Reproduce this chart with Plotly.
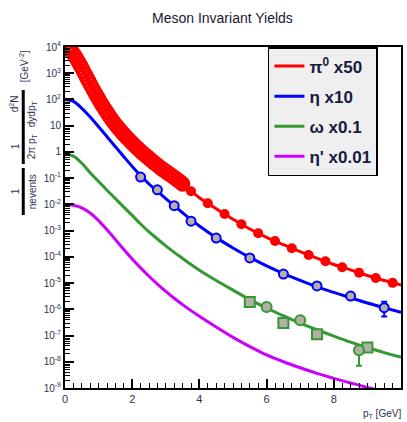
import plotly.graph_objects as go

# ---------------- data ----------------
# pi0 x50 : dense low-pT points
pi0_dense_pt = [0.05, 0.10, 0.15, 0.20, 0.25, 0.30, 0.35, 0.40, 0.45, 0.50,
                0.55, 0.60, 0.65, 0.70, 0.75, 0.80, 0.85, 0.90, 0.95, 1.00,
                1.05, 1.10, 1.15, 1.20, 1.25, 1.30, 1.35, 1.40, 1.45, 1.50,
                1.55, 1.60, 1.65, 1.70, 1.75, 1.80, 1.85, 1.90, 1.95, 2.00,
                2.05, 2.10, 2.15, 2.20, 2.25, 2.30, 2.35, 2.40, 2.45, 2.50,
                2.55, 2.60, 2.65, 2.70, 2.75, 2.80, 2.85, 2.90, 2.95, 3.00,
                3.05, 3.10, 3.15, 3.20, 3.25, 3.30, 3.35, 3.40, 3.45, 3.50]
pi0_dense_y = [1.0e4, 8.5e3, 7.6e3, 6.6e3, 5.5e3, 4.4e3, 3.5e3, 2.7e3, 2.1e3, 1.6e3,
               1.2e3, 890, 676, 513, 389, 295, 224, 174, 135, 105,
               81, 63, 50, 40, 31.6, 25.1, 20.4, 16.6, 13.5, 11.2,
               9.3, 7.8, 6.5, 5.5, 4.7, 4.0, 3.4, 2.95, 2.5, 2.19,
               1.86, 1.62, 1.41, 1.23, 1.07, 0.93, 0.83, 0.72, 0.65, 0.56,
               0.50, 0.44, 0.39, 0.35, 0.31, 0.275, 0.245, 0.22, 0.20, 0.178,
               0.162, 0.145, 0.132, 0.117, 0.107, 0.095, 0.085, 0.076, 0.068, 0.060]
# pi0 x50 : high-pT points
pi0_pt = [3.75, 4.25, 4.75, 5.25, 5.75, 6.25, 6.75, 7.25, 7.75, 8.25, 8.75, 9.25, 9.75]
pi0_y = [0.0316, 0.011, 4.3e-3, 1.74e-3, 7.9e-4, 4.0e-4, 2.14e-4, 1.17e-4, 6.8e-5, 4.0e-5, 2.5e-5,
         1.55e-5, 1.02e-5]
# pi0 x50 : fit curve
pi0_fit_pt = [0, 0.5, 1.0, 1.5, 2.0, 2.5, 3.0, 3.5, 4.0, 4.5, 5.0, 5.5, 6.0, 6.5, 7.0, 7.5,
              8.0, 8.5, 9.0, 9.5, 10.0]
pi0_fit_y = [1.0e4, 1.6e3, 105, 11.2, 2.19, 0.56, 0.178, 0.058, 0.018, 6.8e-3, 2.7e-3, 1.15e-3,
             5.5e-4, 2.9e-4, 1.58e-4, 8.9e-5, 5.1e-5, 3.2e-5, 1.95e-5, 1.26e-5, 8.5e-6]

# common pT grid for the other fit curves
fit_pt = [0, 0.25, 0.5, 0.75, 1.0, 1.25, 1.5, 1.75, 2.0, 2.25, 2.5, 2.75, 3.0, 3.25, 3.5, 3.75,
          4.0, 4.5, 5.0, 5.5, 6.0, 6.5, 7.0, 7.5, 8.0, 8.5, 9.0, 9.5, 10.0]
eta_fit_y = [100, 85, 46, 21.4, 9.1, 3.8, 1.58, 0.66, 0.28, 0.126, 0.060, 0.0316, 0.0166, 8.9e-3,
             4.8e-3, 2.63e-3, 1.51e-3, 5.4e-4, 2.19e-4, 9.5e-5, 4.5e-5, 2.3e-5, 1.26e-5, 7.2e-6,
             4.4e-6, 2.75e-6, 1.74e-6, 1.15e-6, 7.6e-7]
omega_fit_y = [0.85, 0.69, 0.37, 0.162, 0.074, 0.0347, 0.0166, 7.9e-3, 3.8e-3, 1.78e-3, 8.9e-4,
               4.8e-4, 2.63e-4, 1.48e-4, 8.7e-5, 5.1e-5, 3.1e-5, 1.26e-5, 5.4e-6, 2.34e-6, 1.12e-6,
               5.6e-7, 3.0e-7, 1.66e-7, 9.5e-8, 5.6e-8, 3.5e-8, 2.24e-8, 1.5e-8]
etap_fit_y = [0.01, 9.3e-3, 7.4e-3, 4.7e-3, 2.4e-3, 1.07e-3, 4.6e-4, 1.9e-4, 8.3e-5, 3.8e-5,
              1.82e-5, 9.1e-6, 4.8e-6, 2.63e-6, 1.51e-6, 8.9e-7, 5.4e-7, 2.1e-7, 8.5e-8, 3.8e-8,
              1.82e-8, 1.0e-8, 5.9e-9, 3.6e-9, 2.34e-9, 1.55e-9, 1.05e-9, 7.2e-10, 5.0e-10]

# eta x10 data points
eta_pt = [2.25, 2.75, 3.25, 3.75, 4.5, 5.5, 6.5, 7.5, 8.5, 9.5]
eta_y = [0.11, 0.036, 8.9e-3, 2.3e-3, 5.2e-4, 9.1e-5, 2.2e-5, 7.8e-6, 3.2e-6, 1.15e-6]
eta_err_up = [0, 0, 0, 0, 0, 0, 0, 0, 0, 0.8e-6]
eta_err_dn = [0, 0, 0, 0, 0, 0, 0, 0, 0, 0.62e-6]

# omega x0.1 data points (two measurements)
omega_sq_pt = [5.5, 6.5, 7.5, 9.0]
omega_sq_y = [1.9e-6, 3.0e-7, 1.12e-7, 3.5e-8]
omega_ci_pt = [6.0, 7.0, 8.75]
omega_ci_y = [1.23e-6, 3.8e-7, 2.75e-8]
omega_ci_err_up = [0, 0, 1.0e-8]
omega_ci_err_dn = [0, 0, 2.05e-8]

legend_names = ["<b>\u03c0<sup>0</sup> x50</b>", "<b>\u03b7 x10</b>",
                "<b>\u03c9 x0.1</b>", "<b>\u03b7' x0.01</b>"]
y_tick_vals = [1e4, 1e3, 1e2, 10, 1, 1e-1, 1e-2, 1e-3, 1e-4, 1e-5, 1e-6, 1e-7, 1e-8, 1e-9]
y_tick_text = ["10<sup>4</sup>", "10<sup>3</sup>", "10<sup>2</sup>", "10", "1",
               "10<sup>-1</sup>", "10<sup>-2</sup>", "10<sup>-3</sup>", "10<sup>-4</sup>",
               "10<sup>-5</sup>", "10<sup>-6</sup>", "10<sup>-7</sup>", "10<sup>-8</sup>",
               "10<sup>-9</sup>"]

RED = "#ff0000"
BLUE = "#0000ff"
GREEN = "#339933"
MAG = "#cc00ff"
GREY = "#b4afa5"
FONT = "Liberation Sans, Arial, sans-serif"
TXT = "#2b3350"

fig = go.Figure()

# fit curves (these carry the legend entries)
fig.add_trace(go.Scatter(x=pi0_fit_pt, y=pi0_fit_y, mode="lines", name=legend_names[0],
                         legendgroup="a", line=dict(color=RED, width=3, shape="spline")))
fig.add_trace(go.Scatter(x=fit_pt, y=eta_fit_y, mode="lines", name=legend_names[1],
                         legendgroup="b", line=dict(color=BLUE, width=3, shape="spline")))
fig.add_trace(go.Scatter(x=fit_pt, y=omega_fit_y, mode="lines", name=legend_names[2],
                         legendgroup="c", line=dict(color=GREEN, width=3, shape="spline")))
fig.add_trace(go.Scatter(x=fit_pt, y=etap_fit_y, mode="lines", name=legend_names[3],
                         legendgroup="d", line=dict(color=MAG, width=3, shape="spline")))

# data points
fig.add_trace(go.Scatter(x=pi0_dense_pt, y=pi0_dense_y, mode="markers", showlegend=False,
                         marker=dict(symbol="circle-open", size=13, color=RED,
                                     line=dict(width=2.5, color=RED))))
fig.add_trace(go.Scatter(x=pi0_pt, y=pi0_y, mode="markers", showlegend=False,
                         marker=dict(symbol="circle", size=10, color=RED)))
fig.add_trace(go.Scatter(x=eta_pt, y=eta_y, mode="markers", showlegend=False,
                         error_y=dict(type="data", array=eta_err_up, arrayminus=eta_err_dn,
                                      color=BLUE, thickness=2, width=3),
                         marker=dict(symbol="circle", size=9, color=GREY,
                                     line=dict(width=2, color=BLUE))))
fig.add_trace(go.Scatter(x=omega_sq_pt, y=omega_sq_y, mode="markers", showlegend=False,
                         marker=dict(symbol="square", size=10, color=GREY,
                                     line=dict(width=2, color=GREEN))))
fig.add_trace(go.Scatter(x=omega_ci_pt, y=omega_ci_y, mode="markers", showlegend=False,
                         error_y=dict(type="data", array=omega_ci_err_up,
                                      arrayminus=omega_ci_err_dn,
                                      color=GREEN, thickness=2, width=3),
                         marker=dict(symbol="circle", size=10, color=GREY,
                                     line=dict(width=2, color=GREEN))))

minor_y = [k * 10.0 ** e for e in range(-9, 4) for k in range(2, 10)]

fig.update_layout(
    width=407, height=422,
    margin=dict(l=65, r=4, t=47, b=34),
    paper_bgcolor="white", plot_bgcolor="white",
    font=dict(family=FONT, color=TXT, size=11),
    showlegend=True,
    legend=dict(x=0.604, y=1.0, xanchor="left", yanchor="top",
                bgcolor="#efefef", bordercolor="black", borderwidth=1.5,
                font=dict(family=FONT, size=17, color="#1a1a40"),
                itemwidth=30, tracegroupgap=5),
    xaxis=dict(range=[0, 10], showgrid=False, zeroline=False,
               showline=True, linecolor="black", linewidth=2, mirror=True,
               ticks="inside", ticklen=9, tickwidth=1.5, tickcolor="black",
               tickmode="array", tickvals=[0, 2, 4, 6, 8, 10],
               minor=dict(ticks="inside", ticklen=5, tickwidth=1.2, tickcolor="black",
                          dtick=0.25, showgrid=False),
               tickfont=dict(family=FONT, size=11, color=TXT)),
    yaxis=dict(type="log", range=[-9, 4], showgrid=False, zeroline=False,
               showline=True, linecolor="black", linewidth=2, mirror=True,
               ticks="inside", ticklen=9, tickwidth=1.5, tickcolor="black",
               tickmode="array", tickvals=y_tick_vals, ticktext=y_tick_text,
               minor=dict(ticks="inside", ticklen=5, tickwidth=1.2, tickcolor="black",
                          tickvals=minor_y, showgrid=False),
               tickfont=dict(family=FONT, size=10, color=TXT)),
)

# title
fig.add_annotation(text="Meson Invariant Yields", xref="paper", yref="paper",
                   x=0.47, y=1.0, yshift=29, yanchor="middle", showarrow=False,
                   font=dict(family=FONT, size=14, color="#1a1a2e"))
# x-axis title
fig.add_annotation(text="p<sub>T</sub> [GeV]", xref="paper", yref="paper",
                   x=1.005, y=0, yshift=-26, xanchor="right", yanchor="middle",
                   showarrow=False, font=dict(family=FONT, size=10, color=TXT))

# y-axis title built as stacked fractions
def ylab(text, px, py, size=10):
    fig.add_annotation(text=text, xref="paper", yref="paper",
                       x=(px - 65) / 338.0, y=1 - (py - 47) / 341.0,
                       xanchor="center", yanchor="middle",
                       textangle=-90, showarrow=False,
                       font=dict(family=FONT, size=size, color=TXT))

ylab("[GeV<sup>-2</sup>]", 24, 66)
ylab("d<sup>2</sup>N", 14, 104)
ylab("dydp<sub>T</sub>", 32, 114)
ylab("1", 15, 146)
ylab("2\u03c0 p<sub>T</sub>", 32, 146)
ylab("1", 15, 191)
ylab("nevents", 32, 192)
fig.add_shape(type="line", xref="paper", yref="paper",
              x0=(23 - 65) / 338.0, x1=(23 - 65) / 338.0,
              y0=1 - (90 - 47) / 341.0, y1=1 - (164 - 47) / 341.0,
              line=dict(color="black", width=3))
fig.add_shape(type="line", xref="paper", yref="paper",
              x0=(23 - 65) / 338.0, x1=(23 - 65) / 338.0,
              y0=1 - (168 - 47) / 341.0, y1=1 - (215 - 47) / 341.0,
              line=dict(color="black", width=3))

fig.write_html("out.html")
